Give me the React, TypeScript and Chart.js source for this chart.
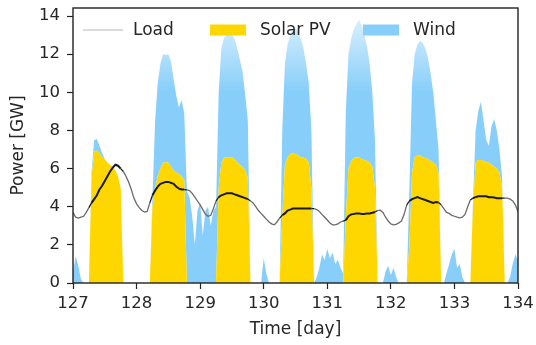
import React, { useEffect, useRef } from 'react';
import { Chart, registerables } from 'chart.js';

Chart.register(...registerables);

// ---- Data (hourly values, GW) ----
const dayTicks = [127, 128, 129, 130, 131, 132, 133, 134];

const solar127 = [0, 0, 0, 0, 0, 0, 0, 5.5, 6.9, 6.95, 6.8, 6.6, 6.5, 6.3, 6.2, 6.1, 5.9, 5.6, 5.0, 0, 0, 0, 0, 0];
const solar128 = [0, 0, 0, 0, 0, 0, 4.0, 5.0, 5.6, 6.0, 6.3, 6.35, 6.3, 6.1, 5.9, 5.8, 5.7, 5.6, 5.4, 0, 0, 0, 0, 0];
const solar129 = [0, 0, 0, 0, 0, 0, 0, 5.0, 6.3, 6.55, 6.6, 6.6, 6.6, 6.5, 6.3, 6.2, 6.1, 5.9, 5.5, 0, 0, 0, 0, 0];
const solar130 = [0, 0, 0, 0, 0, 0, 0, 3.5, 6.2, 6.6, 6.75, 6.8, 6.75, 6.7, 6.6, 6.6, 6.5, 6.3, 5.0, 0, 0, 0, 0, 0];
const solar131 = [0, 0, 0, 0, 0, 0, 0, 3.5, 6.0, 6.4, 6.55, 6.6, 6.6, 6.5, 6.45, 6.4, 6.3, 6.1, 5.0, 0, 0, 0, 0, 0];
const solar132 = [0, 0, 0, 0, 0, 0, 0, 2.0, 5.8, 6.6, 6.7, 6.7, 6.6, 6.55, 6.5, 6.4, 6.3, 6.2, 5.8, 0, 0, 0, 0, 0];
const solar133 = [0, 0, 0, 0, 0, 0, 0, 4.0, 6.3, 6.45, 6.45, 6.4, 6.35, 6.3, 6.2, 6.1, 6.0, 5.8, 5.0, 0, 0, 0, 0, 0];
const solarEnd = [0];

const wind127 = [0.6, 1.4, 0.9, 0.2, 0, 0, 0, 0.3, 0.6, 0.6, 0.4, 0.2, 0, 0, 0, 0, 0, 0, 0, 0, 0, 0, 0, 0];
const wind128 = [0, 0, 0, 0, 0, 0, 0.5, 3.5, 4.9, 5.5, 5.7, 5.6, 5.7, 5.5, 4.8, 4.0, 3.5, 4.0, 3.5, 4.8, 4.5, 3.5, 2.0, 3.8];
const wind129 = [4.2, 2.5, 3.8, 4.0, 3.0, 3.8, 4.0, 5.0, 6.0, 6.3, 6.4, 6.5, 6.4, 6.3, 6.0, 5.5, 5.0, 4.0, 3.0, 0, 0, 0, 0, 0];
const wind130 = [1.3, 0.5, 0, 0, 0, 0, 0, 4.5, 5.3, 5.9, 6.25, 6.5, 6.65, 6.5, 6.2, 5.7, 5.0, 4.2, 3.0, 0, 0.3, 0.8, 1.5, 1.2];
const wind131 = [1.8, 1.3, 1.6, 1.0, 1.2, 0.8, 0.5, 5.5, 6.0, 6.4, 6.75, 7.0, 7.2, 7.0, 6.55, 6.0, 5.2, 3.9, 2.5, 0, 0, 0, 0.6, 0.9];
const wind132 = [0.4, 0.8, 0.3, 0, 0, 0, 0, 3.0, 4.7, 5.4, 5.8, 6.0, 6.0, 5.75, 5.3, 4.6, 3.7, 2.3, 1.2, 0, 0, 0.5, 1.0, 1.5];
const wind133 = [1.8, 0.8, 1.0, 0.3, 0, 0, 0, 0.3, 1.7, 2.55, 3.05, 2.1, 1.15, 0.9, 2.0, 2.5, 2.0, 1.2, 0.5, 0, 0, 0.3, 1.0, 1.5];
const windEnd = [1.2];

const load127 = [3.7, 3.45, 3.4, 3.45, 3.5, 3.7, 3.95, 4.2, 4.4, 4.6, 4.9, 5.1, 5.35, 5.6, 5.85, 6.05, 6.2, 6.15, 6.0, 5.85, 5.6, 5.3, 4.9, 4.45];
const load128 = [4.15, 3.95, 3.8, 3.72, 3.75, 4.2, 4.6, 4.85, 5.05, 5.2, 5.25, 5.3, 5.3, 5.25, 5.2, 5.05, 4.95, 4.9, 4.9, 4.88, 4.85, 4.7, 4.5, 4.3];
const load129 = [4.1, 3.85, 3.6, 3.5, 3.55, 3.9, 4.3, 4.5, 4.6, 4.65, 4.7, 4.7, 4.7, 4.65, 4.6, 4.55, 4.5, 4.45, 4.4, 4.3, 4.2, 4.0, 3.8, 3.65];
const load130 = [3.5, 3.35, 3.2, 3.1, 3.05, 3.2, 3.4, 3.55, 3.65, 3.8, 3.85, 3.9, 3.9, 3.9, 3.9, 3.9, 3.9, 3.9, 3.9, 3.9, 3.85, 3.75, 3.6, 3.45];
const load131 = [3.3, 3.15, 3.05, 3.05, 3.1, 3.2, 3.25, 3.3, 3.5, 3.6, 3.62, 3.65, 3.65, 3.62, 3.62, 3.65, 3.65, 3.68, 3.72, 3.8, 3.82, 3.7, 3.45, 3.25];
const load132 = [3.1, 3.05, 3.08, 3.15, 3.25, 3.6, 4.1, 4.3, 4.4, 4.45, 4.5, 4.45, 4.4, 4.35, 4.3, 4.25, 4.2, 4.25, 4.22, 4.1, 3.9, 3.7, 3.65, 3.55];
const load133 = [3.5, 3.45, 3.42, 3.45, 3.6, 4.0, 4.35, 4.45, 4.5, 4.55, 4.55, 4.55, 4.55, 4.5, 4.5, 4.48, 4.45, 4.45, 4.45, 4.45, 4.45, 4.4, 4.3, 4.1];
const loadEnd = [3.75];

const solar = [...solar127, ...solar128, ...solar129, ...solar130, ...solar131, ...solar132, ...solar133, ...solarEnd];
const wind = [...wind127, ...wind128, ...wind129, ...wind130, ...wind131, ...wind132, ...wind133, ...windEnd];
const load = [...load127, ...load128, ...load129, ...load130, ...load131, ...load132, ...load133, ...loadEnd];
const hoursPerDay = 24;

const GOLD = '#FFD700';
const BLUE = '#87CEFA';
const TEXT = '#262626';
const FONT = 'DejaVu Sans';

const legendItems = [
  { label: 'Load', kind: 'line', color: '#cfcfcf' },
  { label: 'Solar PV', kind: 'box', color: GOLD },
  { label: 'Wind', kind: 'box', color: BLUE },
];

const framePlugin = {
  id: 'frameAndLegend',
  afterDraw(chart: any) {
    const { ctx, chartArea: a } = chart;
    ctx.save();
    ctx.strokeStyle = '#222';
    ctx.lineWidth = 1.4;
    ctx.strokeRect(a.left, a.top, a.right - a.left, a.bottom - a.top);

    // legend inside the plot, one row
    const xs = [83, 210, 363];
    const handleW = 36;
    const cy = a.top + 22;
    ctx.font = `17px "${FONT}"`;
    ctx.textBaseline = 'middle';
    ctx.textAlign = 'left';
    legendItems.forEach((it, i) => {
      const x0 = xs[i];
      if (it.kind === 'line') {
        ctx.strokeStyle = it.color;
        ctx.lineWidth = 1.5;
        ctx.beginPath();
        ctx.moveTo(x0, cy);
        ctx.lineTo(x0 + handleW + 4, cy);
        ctx.stroke();
      } else {
        ctx.fillStyle = it.color;
        ctx.fillRect(x0, cy - 5.5, handleW, 11);
      }
      ctx.fillStyle = TEXT;
      ctx.fillText(it.label, x0 + handleW + 14, cy + 1);
    });
    ctx.restore();
  },
};

export default function App() {
  const ref = useRef<HTMLCanvasElement | null>(null);

  useEffect(() => {
    if (!ref.current) return;
    Chart.defaults.font.family = FONT;
    const xs = solar.map((_, i) => dayTicks[0] + i / hoursPerDay);
    const solarPts = solar.map((v, i) => ({ x: xs[i], y: v }));
    const windPts = wind.map((v, i) => ({ x: xs[i], y: v + solar[i] }));
    const loadPts = load.map((v, i) => ({ x: xs[i], y: v }));

    const chart = new Chart(ref.current, {
      type: 'line',
      data: {
        datasets: [
          {
            label: 'Load',
            data: loadPts,
            borderColor: '#555',
            borderWidth: 1.3,
            pointRadius: 0,
            fill: false,
            tension: 0,
            segment: {
              borderColor: (c: any) =>
                solar[c.p0DataIndex] > 0 || solar[c.p1DataIndex] > 0 ? '#1a1a1a' : '#6a6a6a',
              borderWidth: (c: any) =>
                solar[c.p0DataIndex] > 0 && solar[c.p1DataIndex] > 0 ? 2 : 1.3,
            },
          },
          {
            label: 'Solar PV',
            data: solarPts,
            borderWidth: 0,
            borderColor: GOLD,
            backgroundColor: GOLD,
            pointRadius: 0,
            fill: 'origin',
            tension: 0,
          },
          {
            label: 'Wind',
            data: windPts,
            borderWidth: 0,
            borderColor: BLUE,
            backgroundColor: (c: any) => {
              const ch = c.chart;
              if (!ch.chartArea || !ch.scales.y) return BLUE;
              const y = ch.scales.y;
              const g = ch.ctx.createLinearGradient(0, y.getPixelForValue(10), 0, y.getPixelForValue(14));
              g.addColorStop(0, BLUE);
              g.addColorStop(1, 'rgba(135,206,250,0.3)');
              return g;
            },
            pointRadius: 0,
            fill: '-1',
            tension: 0,
          },
        ],
      },
      options: {
        responsive: false,
        animation: false,
        events: [],
        layout: { padding: { top: 8, right: 18, bottom: 0, left: 0 } },
        plugins: {
          legend: { display: false },
          tooltip: { enabled: false },
        },
        scales: {
          x: {
            type: 'linear',
            min: dayTicks[0],
            max: dayTicks[dayTicks.length - 1],
            afterFit: (s: any) => {
              s.height = 62;
              s.paddingLeft = 0;
              s.paddingRight = 0;
            },
            afterBuildTicks: (s: any) => {
              s.ticks = dayTicks.map((v) => ({ value: v }));
            },
            ticks: {
              includeBounds: false,
              color: TEXT,
              font: { size: 16.5, family: FONT },
              padding: 5,
              maxRotation: 0,
              callback: (v: any) => String(v),
            },
            grid: {
              display: true,
              drawOnChartArea: false,
              drawTicks: true,
              tickLength: 6,
              tickColor: '#222',
              tickWidth: 1.2,
            },
            border: { display: false },
            title: {
              display: true,
              text: 'Time [day]',
              color: TEXT,
              font: { size: 17, family: FONT },
              padding: { top: 0, bottom: 5 },
            },
          },
          y: {
            type: 'linear',
            min: 0,
            max: 14.42,
            afterFit: (s: any) => {
              s.width = 73;
              s.paddingTop = 0;
              s.paddingBottom = 0;
            },
            ticks: {
              stepSize: 2,
              includeBounds: false,
              color: TEXT,
              font: { size: 16.5, family: FONT },
              padding: 7,
            },
            grid: {
              display: true,
              drawOnChartArea: false,
              drawTicks: true,
              tickLength: 6,
              tickColor: '#222',
              tickWidth: 1.2,
            },
            border: { display: false },
            title: {
              display: true,
              text: 'Power [GW]',
              color: TEXT,
              font: { size: 17, family: FONT },
              padding: { top: 8, bottom: 0 },
            },
          },
        },
      },
      plugins: [framePlugin],
    });
    return () => chart.destroy();
  }, []);

  return (
    <div style={{ position: 'fixed', left: 0, top: 0, width: 536, height: 345, background: '#fff' }}>
      <canvas ref={ref} width={536} height={345} style={{ display: 'block', width: 536, height: 345 }} />
    </div>
  );
}
